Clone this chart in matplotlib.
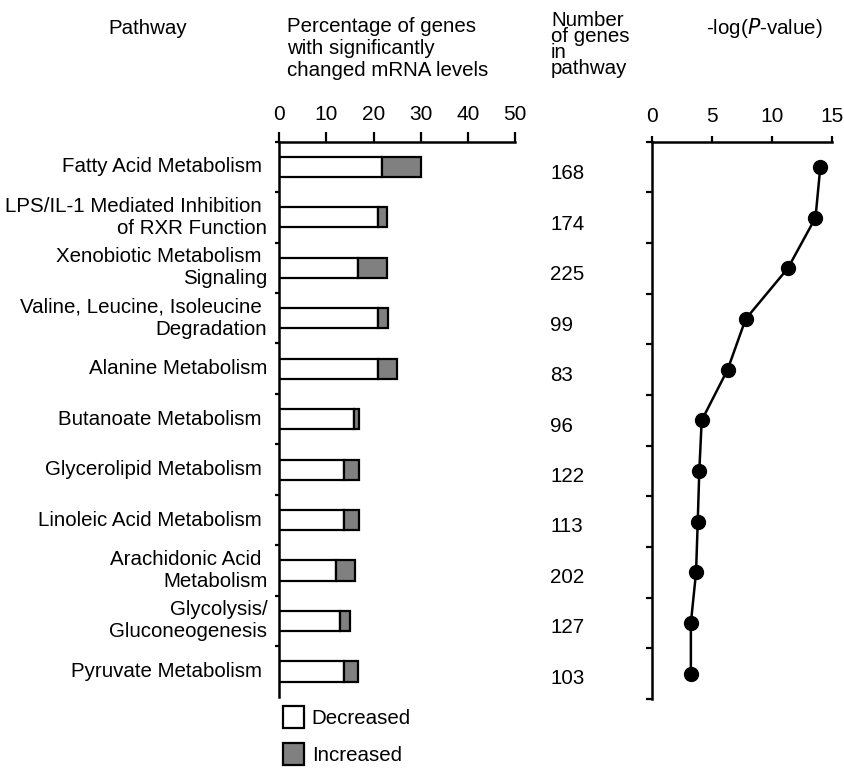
import numpy as np
import matplotlib
matplotlib.use("Agg")
import matplotlib.pyplot as plt
from matplotlib.patches import Patch
from matplotlib.transforms import blended_transform_factory

plt.rcParams['font.family'] = ['Liberation Sans', 'DejaVu Sans']
plt.rcParams['font.size'] = 14.8

# pathway labels (trailing space keeps first lines a bit left, as in the print)
pathways = [
    "Fatty Acid Metabolism ",
    "LPS/IL-1 Mediated Inhibition \nof RXR Function",
    "Xenobiotic Metabolism \nSignaling",
    "Valine, Leucine, Isoleucine \nDegradation",
    "Alanine Metabolism",
    "Butanoate Metabolism ",
    "Glycerolipid Metabolism ",
    "Linoleic Acid Metabolism ",
    "Arachidonic Acid \nMetabolism",
    "Glycolysis/\nGluconeogenesis",
    "Pyruvate Metabolism ",
]
pct_decreased = [21.7, 20.9, 16.8, 20.9, 20.9, 15.9, 13.8, 13.8, 12.0, 12.9, 13.8]
pct_total = [30.0, 22.9, 22.9, 23.0, 25.0, 16.9, 16.9, 16.9, 16.0, 15.0, 16.6]
n_genes = [168, 174, 225, 99, 83, 96, 122, 113, 202, 127, 103]
neg_log_p = [14.0, 13.6, 11.3, 7.8, 6.3, 4.15, 3.95, 3.82, 3.68, 3.25, 3.25]

pct_increased = [t - d for t, d in zip(pct_total, pct_decreased)]
n = len(pathways)
ypos = np.arange(n) + 0.5

fig = plt.figure(figsize=(8.44, 7.68), dpi=100)
ax1 = fig.add_axes([0.3309, 0.0929, 0.2793, 0.7227])
ax2 = fig.add_axes([0.7722, 0.0898, 0.2140, 0.7257])

# --- bars ---
ax1.barh(ypos, pct_decreased, height=0.4, color='white', edgecolor='black',
         linewidth=1.6, label='Decreased')
ax1.barh(ypos, pct_increased, left=pct_decreased, height=0.4, color='#808080',
         edgecolor='black', linewidth=1.6, label='Increased')
ax1.set_xlim(0, 50)
ax1.set_ylim(n, 0)
ax1.xaxis.tick_top()
ax1.set_xticks([0, 10, 20, 30, 40, 50])
ax1.tick_params(axis='x', length=7, width=1.6, pad=6, labelsize=15)
ax1.set_yticks(range(0, n))
ax1.set_yticklabels([])
ax1.tick_params(axis='y', length=3, width=1.6)
for s in ['right', 'bottom']:
    ax1.spines[s].set_visible(False)
for s in ['top', 'left']:
    ax1.spines[s].set_linewidth(1.8)

for y, lab in zip(ypos, pathways):
    ax1.text(-2.5, y, lab, ha='right', va='center', linespacing=1.2)

# gene counts column
tr = blended_transform_factory(fig.transFigure, ax1.transData)
for y, g in zip(ypos, n_genes):
    ax1.annotate(str(g), xy=(550 / 844, y), xycoords=tr, xytext=(0, -5),
                 textcoords='offset points', ha='left', va='center')

# --- -log(P) line ---
ax2.plot(neg_log_p, ypos, color='black', linewidth=1.8, marker='o',
         markersize=10, markerfacecolor='black')
ax2.set_xlim(0, 15)
ax2.set_ylim(n, 0)
ax2.xaxis.tick_top()
ax2.set_xticks([0, 5, 10, 15])
ax2.tick_params(axis='x', length=4, width=1.6, pad=7, labelsize=15)
ax2.set_yticks(range(0, n + 1))
ax2.set_yticklabels([])
ax2.tick_params(axis='y', length=4, width=1.6)
for s in ['right', 'bottom']:
    ax2.spines[s].set_visible(False)
for s in ['top', 'left']:
    ax2.spines[s].set_linewidth(1.8)

# --- headers ---
fig.text(148 / 844, 1 - 28 / 768, "Pathway", ha='center', va='center')
fig.text(287 / 844, 1 - 17 / 768,
         "Percentage of genes\nwith significantly\nchanged mRNA levels",
         ha='left', va='top', linespacing=1.2)
fig.text(551 / 844, 1 - 11 / 768, "Number\nof genes\nin\npathway",
         ha='left', va='top', linespacing=0.8)
fig.text(764 / 844, 1 - 28 / 768, "-log($\\mathit{P}$-value)",
         ha='center', va='center')

# legend
handles = [Patch(facecolor='white', edgecolor='black', linewidth=1.6),
           Patch(facecolor='#808080', edgecolor='black', linewidth=1.6)]
fig.legend(handles, ['Decreased', 'Increased'], loc='upper left',
           bbox_to_anchor=(283 / 844, 1 - 706 / 768), frameon=False,
           handlelength=1.0, handleheight=1.25, handletextpad=0.4,
           labelspacing=0.75, borderpad=0, borderaxespad=0)

fig.savefig("out.png", dpi=100)
